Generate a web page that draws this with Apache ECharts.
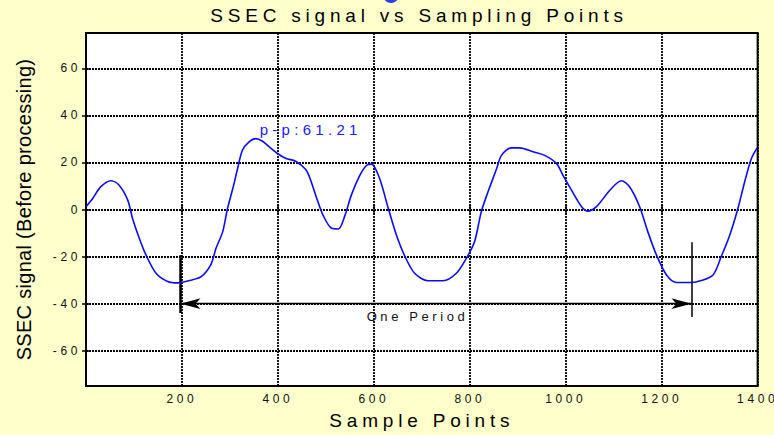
<!DOCTYPE html>
<html>
<head>
<meta charset="utf-8">
<title>SSEC signal vs Sampling Points</title>
<script src="https://cdn.jsdelivr.net/npm/echarts@6/dist/echarts.min.js"></script>
<style>
  html, body { margin: 0; padding: 0; background: #ffffcc; }
  #chart { width: 774px; height: 435px; }
</style>
</head>
<body>
<div id="chart"></div>
<script>
// sample index of each read point
const samplePoints = [
  0, 14, 31, 52, 69, 87, 97, 111, 125, 146, 170, 191, 215, 240, 260, 271, 285, 295,
  306, 316, 326, 340, 354, 368, 382, 399, 417, 437, 458, 467, 481, 494, 512, 526,
  540, 553, 571, 585, 595, 612, 630, 647, 665, 685, 713, 744, 772, 793, 810, 824,
  838, 856, 866, 887, 904, 932, 956, 981, 994, 1012, 1033, 1046, 1064, 1092, 1116,
  1133, 1154, 1171, 1189, 1210, 1231, 1262, 1282, 1307, 1324, 1342, 1359, 1373,
  1387, 1399
]
// SSEC signal before processing
const ssecValues = [
  1.2, 4.7, 9.7, 12.2, 10.3, 4.0, -3.8, -12.2, -19.3, -27.1, -30.6, -31.2, -30.2,
  -28.5, -23.5, -16.5, -9.4, 0.5, 8.9, 17.4, 25.2, 28.7, 30.1, 29.0, 26.6, 23.8,
  21.7, 20.5, 17.0, 13.2, 4.7, -2.4, -8.0, -8.3, -2.4, 6.1, 14.6, 18.8, 19.3, 13.2,
  0.5, -10.8, -20.0, -27.1, -30.3, -30.3, -27.1, -20.7, -13.6, -0.9, 7.5, 17.4,
  23.0, 26.2, 26.2, 24.5, 23.0, 19.5, 14.6, 8.2, 1.2, -0.7, 1.2, 8.2, 12.2, 9.7,
  1.2, -9.4, -19.3, -27.8, -31.0, -31.0, -30.2, -27.8, -20.0, -10.8, 0.5, 11.8,
  21.7, 26.2
]
const yTickValues = [-60, -40, -20, 0, 20, 40, 60]

// annotations (data coordinates)
const periodStart = 197
const periodEnd = 1262
const periodArrowY = -40
const leftMarker = [[197, -19.4], [197, -44.0]]
const rightMarker = [[1262, -13.9], [1262, -45.7]]
const ppText = 'p-p:61.21'
const ppAt = [362, 33.9]
const periodText = 'One Period'
const periodTextAt = [691, -45.3]

const FONT = 'Arial, "Liberation Sans", sans-serif'
const dotted = { color: '#000', width: 1.8, type: [2, 1] }

const chart = echarts.init(document.getElementById('chart'), null, { renderer: 'svg' })

chart.setOption({
  backgroundColor: '#ffffcc',
  animation: false,
  textStyle: { fontFamily: FONT },
  title: {
    text: 'SSEC signal vs Sampling Points',
    left: 419,
    top: 6,
    padding: 0,
    textAlign: 'center',
    textStyle: { fontSize: 19, fontWeight: 'normal', color: '#000', fontFamily: FONT },
  },
  graphic: [{
    type: 'circle',
    shape: { cx: 391, cy: -5, r: 8 },
    style: { fill: '#2b3fe6' },
  }],
  grid: {
    left: 86, right: 16, top: 33, bottom: 47,
    show: true,
    backgroundColor: '#fff',
    borderColor: '#000',
    borderWidth: 2,
  },
  xAxis: [
    {
      type: 'value',
      min: 0,
      max: 1400,
      interval: 200,
      name: 'Sample Points',
      nameLocation: 'middle',
      nameGap: 25,
      nameTextStyle: { fontSize: 19, color: '#000', fontFamily: FONT },
      axisLine: { show: false },
      axisTick: { inside: true, length: 4, lineStyle: { color: '#000', width: 1.5 } },
      axisLabel: {
        margin: 7, fontSize: 12, color: '#111', fontFamily: FONT,
        formatter: v => (v === 0 ? '' : String(v)),
      },
      splitLine: { show: true, lineStyle: dotted },
    },
    {
      type: 'value',
      position: 'top',
      min: 0,
      max: 1400,
      interval: 200,
      axisLine: { show: false },
      axisTick: { inside: true, length: 4, lineStyle: { color: '#000', width: 1.5 } },
      axisLabel: { show: false },
      splitLine: { show: false },
    },
  ],
  yAxis: [
    {
      type: 'value',
      min: -75,
      max: 75,
      name: 'SSEC signal (Before processing)',
      nameLocation: 'middle',
      nameGap: 52,
      nameTextStyle: { fontSize: 20, color: '#000', fontFamily: FONT },
      axisLine: { show: false },
      axisTick: {
        inside: true, length: 4, customValues: yTickValues,
        lineStyle: { color: '#000', width: 1.5 },
      },
      axisLabel: {
        margin: 5, fontSize: 12, color: '#111', fontFamily: FONT,
        customValues: yTickValues,
      },
      splitLine: { show: false },
    },
    {
      type: 'value',
      position: 'right',
      min: -75,
      max: 75,
      axisLine: { show: false },
      axisTick: {
        inside: true, length: 4, customValues: yTickValues,
        lineStyle: { color: '#000', width: 1.5 },
      },
      axisLabel: { show: false },
      splitLine: { show: false },
    },
  ],
  series: [{
    name: 'SSEC signal',
    type: 'line',
    data: samplePoints.map((x, i) => [x, ssecValues[i]]),
    showSymbol: false,
    smooth: 0.3,
    lineStyle: { color: '#0b0bf5', width: 1.6 },
    itemStyle: { color: '#0b0bf5' },
    z: 5,
    markLine: {
      silent: true,
      symbol: 'none',
      label: { show: false },
      animation: false,
      z: 3,
      data: [
        ...yTickValues.map(v => ({ yAxis: v, lineStyle: dotted })),
        [
          { coord: [periodStart, periodArrowY], symbol: 'arrow', symbolSize: [8, 20] },
          { coord: [periodEnd, periodArrowY], symbol: 'arrow', symbolSize: [8, 20] },
        ].map(p => ({ ...p, lineStyle: { color: '#000', width: 1.3, type: 'solid' } })),
        [
          { coord: leftMarker[0] },
          { coord: leftMarker[1] },
        ].map(p => ({ ...p, lineStyle: { color: '#000', width: 2.5, type: 'solid' } })),
        [
          { coord: rightMarker[0] },
          { coord: rightMarker[1] },
        ].map(p => ({ ...p, lineStyle: { color: '#000', width: 1.5, type: 'solid' } })),
      ],
    },
    markPoint: {
      silent: true,
      symbol: 'circle',
      symbolSize: 0,
      animation: false,
      data: [
        {
          coord: ppAt,
          label: {
            show: true, formatter: ppText, position: 'right', distance: 0,
            fontSize: 15, color: '#1a1aff', fontFamily: FONT,
          },
        },
        {
          coord: periodTextAt,
          label: {
            show: true, formatter: periodText, position: 'inside',
            fontSize: 13, color: '#111', fontFamily: FONT,
          },
        },
      ],
    },
  }],
})

// the original uses widely tracked text: space letters by font size
const spacingBySize = { 19: 4.8, 20: 0.3, 12: 3.6, 15: 4.3, 13: 3.6 }
function applySpacing() {
  document.querySelectorAll('#chart svg text').forEach(t => {
    const size = Math.round(parseFloat(getComputedStyle(t).fontSize))
    if (spacingBySize[size] != null) {
      t.setAttribute('letter-spacing', spacingBySize[size] + 'px')
    }
  })
}
chart.on('finished', applySpacing)
applySpacing()
</script>
</body>
</html>
